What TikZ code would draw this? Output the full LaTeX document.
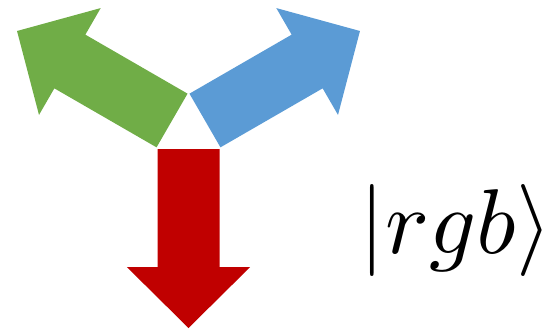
\documentclass[tikz,border=0pt]{standalone}
\definecolor{qred}{HTML}{C00000}
\definecolor{qgreen}{HTML}{70AD47}
\definecolor{qblue}{HTML}{5B9BD5}
\begin{document}
\begin{tikzpicture}[x=1pt,y=-1pt,
  fatarrow/.pic={\fill[pic actions] (19,31) -- (137,31) -- (137,61.7) -- (198,0) -- (137,-61.7) -- (137,-31) -- (19,-31) -- cycle;}]
\useasboundingbox (0,0) rectangle (545,329);
\coordinate (c) at (188.5,130);
\pic[fill=qred, rotate=-90] at (c) {fatarrow};
\pic[fill=qgreen, rotate=150] at (c) {fatarrow};
\pic[fill=qblue, rotate=30] at (c) {fatarrow};
\node[anchor=base west, inner sep=0pt, scale=9.2] (ket) at (358,253) {$|rgb\rangle$};
\end{tikzpicture}
\end{document}
